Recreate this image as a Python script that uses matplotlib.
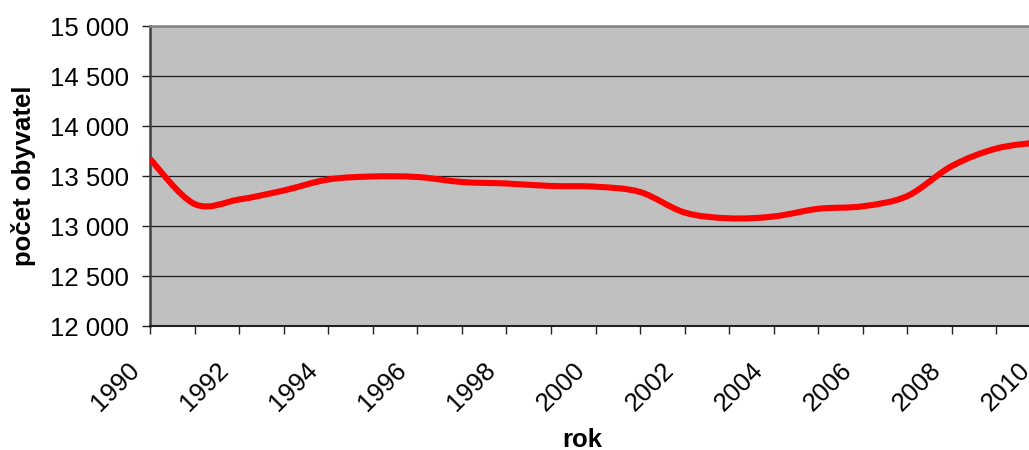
import matplotlib
matplotlib.use('Agg')
import matplotlib.pyplot as plt
import matplotlib.transforms as mtransforms
from matplotlib.path import Path
from matplotlib.patches import PathPatch
from matplotlib.ticker import FuncFormatter

plt.rcParams['font.family'] = ['Liberation Sans', 'DejaVu Sans']

# ---- data ----
years = [1990, 1991, 1992, 1993, 1994, 1995, 1996, 1997, 1998, 1999, 2000,
         2001, 2002, 2003, 2004, 2005, 2006, 2007, 2008, 2009, 2010]
population = [13670, 13220, 13265, 13355, 13465, 13495, 13490, 13440, 13425, 13400, 13393,
              13340, 13135, 13077, 13095, 13172, 13197, 13300, 13600, 13775, 13840]
x_tick_labels = [str(y) if y % 2 == 0 else '' for y in years]
y_ticks = [12000, 12500, 13000, 13500, 14000, 14500, 15000]
x_title = 'rok'
y_title = 'počet obyvatel'


def smooth_path(xs, ys):
    """Excel-like smoothed line: cubic Bezier through the points (Catmull-Rom control points)."""
    pts = list(zip(xs, ys))
    n = len(pts)
    verts = [pts[0]]
    codes = [Path.MOVETO]
    for i in range(n - 1):
        p0 = pts[i - 1] if i > 0 else pts[i]
        p1 = pts[i]
        p2 = pts[i + 1]
        p3 = pts[i + 2] if i + 2 < n else pts[i + 1]
        c1 = (p1[0] + (p2[0] - p0[0]) / 6.0, p1[1] + (p2[1] - p0[1]) / 6.0)
        c2 = (p2[0] - (p3[0] - p1[0]) / 6.0, p2[1] - (p3[1] - p1[1]) / 6.0)
        verts += [c1, c2, p2]
        codes += [Path.CURVE4] * 3
    return Path(verts, codes)


W, H = 1029, 450
fig = plt.figure(figsize=(W / 100, H / 100), dpi=100)
fig.patch.set_facecolor('white')
# plot area: x 150 -> 1041 px (runs past the right edge of the image), y 26 -> 326 px
ax = fig.add_axes([150 / W, (H - 326) / H, (1041 - 150) / W, 300 / H])
ax.set_facecolor('#C0C0C0')

ax.set_xlim(years[0], years[-1])
ax.set_ylim(y_ticks[0], y_ticks[-1])

ax.set_yticks(y_ticks)
ax.yaxis.set_major_formatter(FuncFormatter(lambda v, p: f"{int(v):,}".replace(',', ' ')))
ax.set_xticks(years)
ax.set_xticklabels(x_tick_labels, rotation=45, ha='right', va='top')

ax.grid(axis='y', color='#1a1a1a', linewidth=0.9, zorder=1)
ax.set_axisbelow(True)

ax.tick_params(axis='both', direction='out', length=6, width=1.0, color='#222222',
               labelsize=18.5, labelcolor='black')
ax.tick_params(axis='y', pad=9)
ax.tick_params(axis='x', pad=17)

shift = mtransforms.ScaledTranslation(-6 / 100, 0, fig.dpi_scale_trans)
for lbl in ax.get_xticklabels():
    lbl.set_transform(lbl.get_transform() + shift)

ax.spines['right'].set_visible(False)
ax.spines['top'].set_color('#808080')
ax.spines['top'].set_linewidth(1.8)
ax.spines['left'].set_color('#404040')
ax.spines['left'].set_linewidth(1.8)
ax.spines['bottom'].set_color('#202020')
ax.spines['bottom'].set_linewidth(1.5)

patch = PathPatch(smooth_path(years, population), facecolor='none', edgecolor='#FF0000',
                  linewidth=4.4, capstyle='butt', joinstyle='round', zorder=3)
ax.add_patch(patch)

fig.text(24 / W, 1 - 176 / H, y_title, rotation=90, ha='center', va='center',
         fontsize=18.5, fontweight='bold')
fig.text(582 / W, 1 - 440 / H, x_title, ha='center', va='center',
         fontsize=18.5, fontweight='bold')

fig.savefig('out.png', dpi=100)
